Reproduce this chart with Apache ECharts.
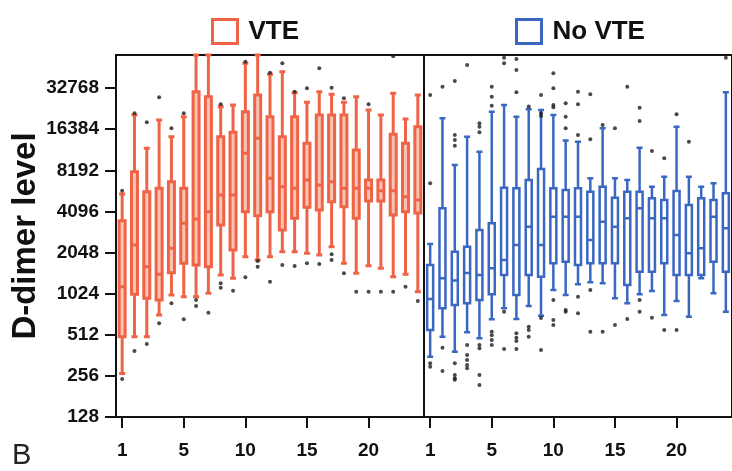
<!DOCTYPE html>
<html><head><meta charset="utf-8">
<script src="https://cdn.jsdelivr.net/npm/echarts@6/dist/echarts.min.js"></script>
<style>html,body{margin:0;padding:0;background:#fff}#c{width:732px;height:471px}</style>
</head><body><div id="c"></div>
<script>
// ---- categories / ticks ----
const days = ['0','1','2','3','4','5','6','7','8','9','10','11','12','13','14','15','16','17','18','19','20','21','22','23','24'];
const tickIndex = [0, 5, 10, 15, 20];
const tickText = ['1', '5', '10', '15', '20'];
const yTicks = [128, 256, 512, 1024, 2048, 4096, 8192, 16384, 32768];
const yMin = 128, yMax = 57300;

// ---- VTE boxes: [low whisker, Q1, median, Q3, high whisker] ----
const vteBoxes = [
  [267, 496, 1152, 3508, 5504],
  [496, 1013, 2328, 8010, 20850],
  [496, 947, 1615, 5720, 11895],
  [715, 921, 1420, 6055, 19170],
  [1002, 1459, 2202, 6770, 14460],
  [973, 1710, 3357, 6055, 20270],
  [973, 1662, 3610, 30890, 57300],
  [1031, 1615, 4080, 28400, 57300],
  [1404, 3262, 5410, 14460, 23980],
  [1328, 2140, 5410, 15580, 24680],
  [1911, 4080, 10930, 22040, 49900],
  [1808, 3816, 14080, 29220, 57300],
  [1911, 4080, 7170, 20270, 41400],
  [2080, 2998, 6220, 14460, 43270],
  [2080, 3652, 6055, 20270, 30380],
  [2024, 4397, 6965, 12940, 25830],
  [1967, 4200, 6405, 20850, 30890],
  [2263, 4830, 6770, 20850, 29560],
  [1710, 4440, 6055, 20850, 25830],
  [1444, 3652, 6055, 11550, 28400],
  [1642, 4890, 6055, 6965, 22690],
  [1571, 4890, 5816, 6965, 20850],
  [1364, 3860, 5816, 15060, 30060],
  [1420, 4080, 5256, 12940, 19500],
  [1059, 3994, 4973, 17110, 29220]
];
// outliers per day (VTE)
const vteOutliers = [
  [5816, 243], [21500, 390], [18430, 438], [28120, 621], [16650, 871],
  [21450, 665], [921, 832], [743], [24960, 1220, 1133], [1077],
  [51200, 1350], [1780, 1615], [42500, 1254], [49900, 1662], [30800, 1634],
  [32700, 1710], [45830, 1690], [33000, 1991, 1808], [27650, 1444], [1059],
  [24960, 1059], [1059], [56000, 1059], [1152], [905]
];

// ---- No VTE boxes ----
const noVteBoxes = [
  [354, 555, 936, 1662, 2368],
  [496, 801, 1328, 4323, 19730],
  [385, 846, 1280, 2080, 8970],
  [534, 871, 1450, 2263, 14460],
  [483, 921, 1404, 2998, 11230],
  [665, 1013, 1571, 3357, 22040],
  [801, 1404, 1808, 6120, 24680],
  [668, 1002, 2328, 6055, 20270],
  [832, 1404, 3169, 6965, 22960],
  [707, 1364, 2328, 8390, 22690],
  [1090, 1710, 3751, 6055, 20850],
  [1002, 1757, 3751, 5885, 13530],
  [1200, 1662, 3751, 6055, 13290],
  [1241, 1710, 2533, 5720, 7170],
  [1220, 1710, 3450, 6220, 16650],
  [947, 1710, 3169, 5160, 7170],
  [871, 1186, 3652, 5720, 6965],
  [1013, 1483, 4323, 5720, 12010],
  [1072, 1483, 3652, 5110, 6220],
  [715, 1710, 3652, 4973, 7360],
  [905, 1404, 2755, 5790, 17110],
  [695, 1404, 2024, 4570, 7360],
  [1328, 1404, 2202, 5110, 6220],
  [1031, 1757, 3751, 4973, 6590],
  [755, 1483, 3085, 5570, 30570]
];
const noVteOutliers = [
  [29220, 6590, 317, 299],
  [33600, 412, 278],
  [37000, 14880, 13680, 12430, 317, 260, 246, 240],
  [48460, 431, 364, 335, 308, 291],
  [18130, 17110, 15580, 431, 408, 260, 220],
  [33600, 28400, 24380, 540, 508, 469, 431],
  [54800, 49900, 755, 403],
  [53600, 44570, 30570, 525, 488, 461, 403],
  [24000, 587, 555, 496],
  [29220, 21500, 20500, 680, 396],
  [42100, 32700, 24680, 23700, 921, 657, 604],
  [25400, 20270, 16650, 777, 755],
  [30890, 24960, 14880, 973, 735],
  [29560, 13840, 1090, 540],
  [17600, 540],
  [16650, 604],
  [33600, 668],
  [23560, 18840, 921, 755],
  [11360, 683],
  [10040, 555],
  [21100, 555],
  [13290],
  [],
  [],
  [54700]
];

const RED = '#ef6447', RED_FILL = '#f9c4b3';
const BLUE = '#3a68c0', BLUE_FILL = '#ffffff';
const FONT = 'Liberation Sans, Arial, sans-serif';

function flatOutliers(list) {
  const out = [];
  list.forEach((vals, i) => vals.forEach(v => out.push([i, v])));
  return out;
}
const showTick = (i) => tickIndex.indexOf(i) >= 0;

function xAxis(gridIndex) {
  return {
    type: 'category', gridIndex, data: days, boundaryGap: true,
    axisLine: {show: true, lineStyle: {color: '#111', width: 2}},
    axisTick: {show: true, interval: showTick, alignWithLabel: true, length: 11, lineStyle: {color: '#111', width: 2}},
    axisLabel: {interval: showTick, margin: 24, color: '#111', fontFamily: FONT, fontWeight: 'bold', fontSize: 19,
      formatter: (v, i) => tickText[tickIndex.indexOf(i)]},
    splitLine: {show: false}
  };
}
function yAxis(gridIndex, show) {
  return {
    type: 'log', logBase: 2, gridIndex, min: yMin, max: yMax, show,
    name: show ? 'D-dimer level' : '', nameLocation: 'middle', nameRotate: 90, nameGap: 72,
    nameTextStyle: {color: '#111', fontFamily: FONT, fontWeight: 'bold', fontSize: 33},
    axisLine: {show: true, lineStyle: {color: '#111', width: 2}},
    axisTick: {show: true, customValues: yTicks, length: 11, lineStyle: {color: '#111', width: 2}},
    axisLabel: {customValues: yTicks, margin: 17, color: '#111', fontFamily: FONT, fontWeight: 'bold', fontSize: 19,
      formatter: (v) => String(Math.round(v))},
    splitLine: {show: false}
  };
}

const chart = echarts.init(document.getElementById('c'), null, {renderer: 'canvas'});
chart.setOption({
  animation: false,
  backgroundColor: '#fff',
  grid: [
    {left: 116, top: 55, width: 308, height: 362, show: true, borderColor: '#111', borderWidth: 2, backgroundColor: 'transparent'},
    {left: 424, top: 55, width: 310, height: 362, show: true, borderColor: '#111', borderWidth: 2, backgroundColor: 'transparent'}
  ],
  legend: [
    {data: [{name: 'VTE', itemStyle: {color: '#fff', borderColor: RED, borderWidth: 3}}],
     left: 206, top: 13, itemWidth: 25, itemHeight: 24, icon: 'rect',
     textStyle: {color: '#111', fontFamily: FONT, fontWeight: 'bold', fontSize: 26, padding: [0, 0, 0, 6]}},
    {data: [{name: 'No VTE', itemStyle: {color: '#fff', borderColor: BLUE, borderWidth: 3}}],
     left: 510, top: 13, itemWidth: 25, itemHeight: 24, icon: 'rect',
     textStyle: {color: '#111', fontFamily: FONT, fontWeight: 'bold', fontSize: 26, padding: [0, 0, 0, 6]}}
  ],
  xAxis: [xAxis(0), xAxis(1)],
  yAxis: [yAxis(0, true), yAxis(1, false)],
  graphic: [
    {type: 'text', left: 12, top: 441, style: {text: 'B', fontFamily: FONT, fontSize: 29, fill: '#222'}}
  ],
  series: [
    {name: 'VTE', type: 'boxplot', xAxisIndex: 0, yAxisIndex: 0, data: vteBoxes, boxWidth: [6, 6],
     itemStyle: {color: RED_FILL, borderColor: RED, borderWidth: 3}},
    {name: 'No VTE', type: 'boxplot', xAxisIndex: 1, yAxisIndex: 1, data: noVteBoxes, boxWidth: [6, 6],
     itemStyle: {color: BLUE_FILL, borderColor: BLUE, borderWidth: 2.5}},
    {name: 'VTE outliers', type: 'scatter', xAxisIndex: 0, yAxisIndex: 0, data: flatOutliers(vteOutliers),
     symbolSize: 4, itemStyle: {color: '#1b1b1b'}, z: 5},
    {name: 'No VTE outliers', type: 'scatter', xAxisIndex: 1, yAxisIndex: 1, data: flatOutliers(noVteOutliers),
     symbolSize: 4, itemStyle: {color: '#1b1b1b'}, z: 5}
  ]
});
</script></body></html>
